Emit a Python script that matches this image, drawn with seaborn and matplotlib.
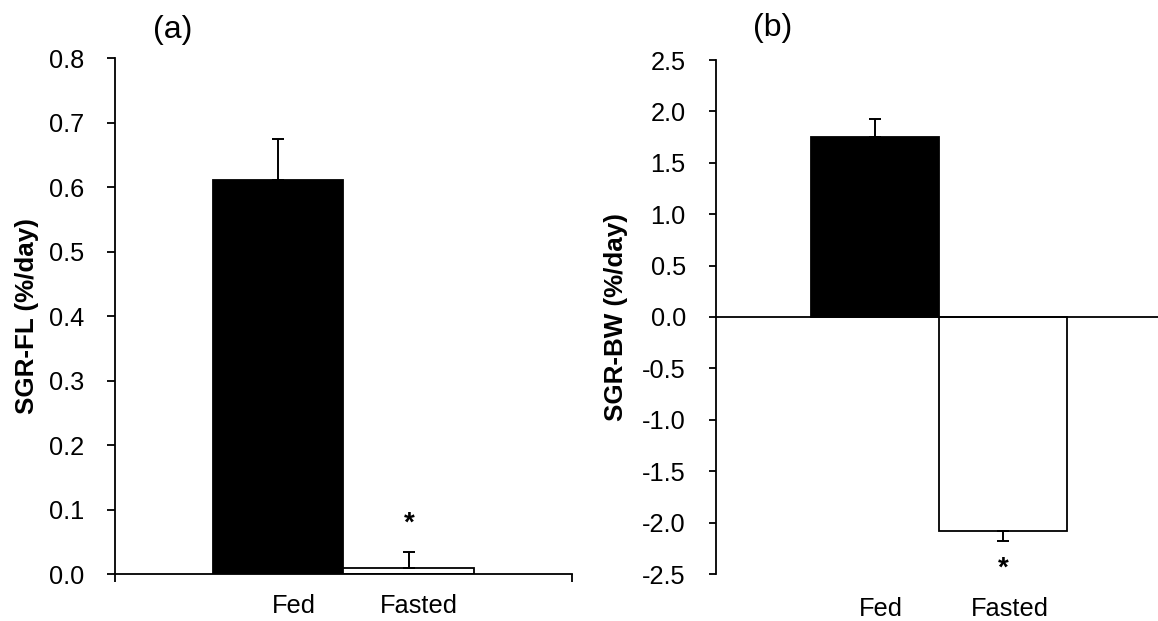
import matplotlib
matplotlib.use("Agg")
import matplotlib.pyplot as plt
import seaborn as sns

# Specific growth rates (mean ± SE) for fed and fasted fish
groups = ["Fed", "Fasted"]
sgr_fl = [0.611, 0.01]
sgr_fl_se = [0.064, 0.025]
sgr_bw = [1.75, -2.08]
sgr_bw_se = [0.18, 0.10]
fl_ticks = [0.0, 0.1, 0.2, 0.3, 0.4, 0.5, 0.6, 0.7, 0.8]
bw_ticks = [-2.5, -2.0, -1.5, -1.0, -0.5, 0.0, 0.5, 1.0, 1.5, 2.0, 2.5]

sns.set_theme(style="white")
plt.rcParams["font.family"] = ["Liberation Sans", "DejaVu Sans"]
plt.rcParams.update({"text.color": "black", "axes.labelcolor": "black",
                     "xtick.color": "black", "ytick.color": "black"})

W, H = 1158, 621
fig = plt.figure(figsize=(W / 100, H / 100), dpi=100)
ax_a = fig.add_axes([115.3 / W, 1 - 574.3 / H, 456.4 / W, 516 / H])
ax_b = fig.add_axes([715.7 / W, 1 - 574 / H, 447 / W, 514 / H])

colors = ["black", "white"]
tick_fs = 18.3
label_fs = 18.7
xlim = (-1.245, 2.245)


def draw_panel(ax, means, ses, ticks, ylabel):
    sns.barplot(x=groups, y=means, hue=groups, palette=colors, order=groups,
                hue_order=groups, edgecolor="black", linewidth=1.3, width=1.0,
                errorbar=None, legend=False, ax=ax, saturation=1)
    centers = [p.get_x() + p.get_width() / 2 for p in ax.patches]
    lower = [s if m < 0 else 0 for m, s in zip(means, ses)]
    upper = [s if m >= 0 else 0 for m, s in zip(means, ses)]
    ax.errorbar(centers, means, yerr=[lower, upper], fmt="none", ecolor="black",
                elinewidth=1.4, capsize=4.3, capthick=1.4, zorder=3)
    ax.set_xlim(*xlim)
    ax.set_ylim(ticks[0], ticks[-1])
    ax.set_yticks(ticks)
    ax.set_yticklabels([f"{t:.1f}" for t in ticks], fontsize=tick_fs)
    ax.set_ylabel(ylabel, fontsize=label_fs, fontweight="bold")
    ax.set_xlabel("")
    for s in ["top", "right"]:
        ax.spines[s].set_visible(False)
    for s in ["left", "bottom"]:
        ax.spines[s].set_color("black")
        ax.spines[s].set_linewidth(1.3)
    return centers


# Panel (a): fork length
ca = draw_panel(ax_a, sgr_fl, sgr_fl_se, fl_ticks, "SGR-FL (%/day)")
ax_a.set_xticks([0.123, 1.08])
ax_a.set_xticklabels(groups, fontsize=tick_fs)
ax_a.tick_params(axis="x", which="major", length=0, pad=14)
ax_a.set_xticks(list(xlim), minor=True)
ax_a.tick_params(axis="x", which="minor", bottom=True, length=5.8, width=1.3,
                 direction="out", color="black")
ax_a.tick_params(axis="y", left=True, length=5.8, width=1.3, direction="out",
                 color="black", pad=16.5)
ax_a.yaxis.set_label_coords(-0.1665, 0.5)
ax_a.text(ca[1], sgr_fl[1] + sgr_fl_se[1] + 0.033, "*", ha="center", va="baseline",
          fontsize=20, fontweight="bold")

# Panel (b): body weight
cb = draw_panel(ax_b, sgr_bw, sgr_bw_se, bw_ticks, "SGR-BW (%/day)")
ax_b.spines["bottom"].set_visible(False)
ax_b.axhline(0, color="black", linewidth=1.3, zorder=4)
ax_b.set_xticks([0.043, 1.055])
ax_b.set_xticklabels(groups, fontsize=tick_fs)
ax_b.tick_params(axis="x", which="major", length=0, pad=16.3)
ax_b.tick_params(axis="y", left=True, length=5, width=1.3, direction="out",
                 color="black", pad=16.5)
ax_b.yaxis.set_label_coords(-0.196, 0.5)
ax_b.text(cb[1], sgr_bw[1] - sgr_bw_se[1] - 0.34, "*", ha="center", va="baseline",
          fontsize=20, fontweight="bold")

fig.text(173 / W, 1 - 30 / H, "(a)", ha="center", va="center", fontsize=23)
fig.text(772.5 / W, 1 - 28 / H, "(b)", ha="center", va="center", fontsize=23)

fig.savefig("out.png", dpi=100, facecolor="white")
